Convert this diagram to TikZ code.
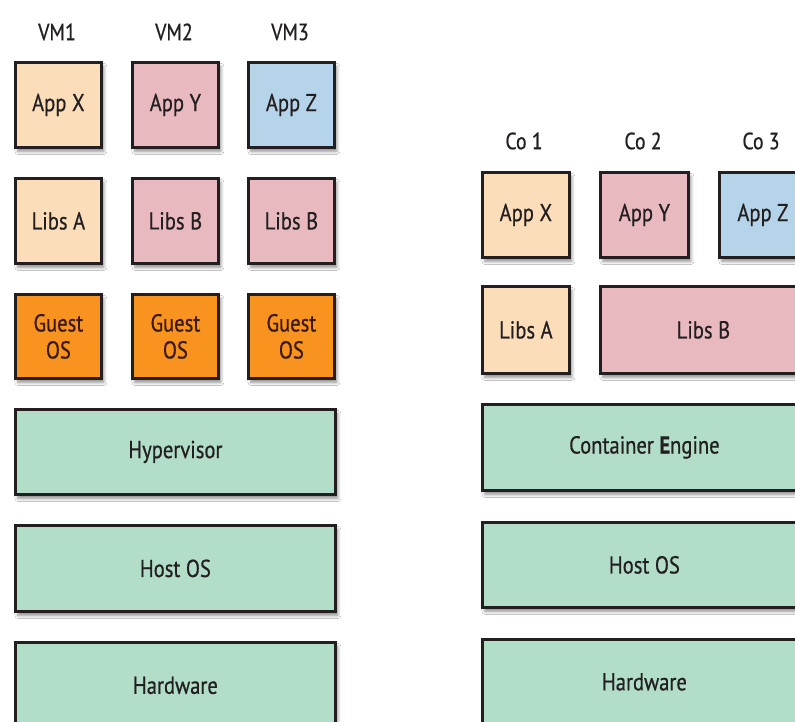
\documentclass[tikz,border=0pt]{standalone}
\usepackage{fontspec}
\setmainfont[FakeStretch=0.84,FakeBold=0.6]{PT Sans}
\usetikzlibrary{shadows.blur}
\definecolor{peach}{HTML}{FCDDB9}
\definecolor{pinkb}{HTML}{E8BAC0}
\definecolor{blueb}{HTML}{B6D4E9}
\definecolor{orangeb}{HTML}{F7931E}
\definecolor{greenb}{HTML}{B2DDC9}
\definecolor{ink}{HTML}{231F20}
\definecolor{brownink}{HTML}{3A1A0E}
\tikzset{
  box/.style={draw=ink, line width=2.8pt, anchor=north west, inner sep=0pt,
    font=\fontsize{24.5}{27}\selectfont, text=ink, align=center,
    blur shadow={shadow xshift=2.5pt, shadow yshift=-4pt, shadow blur radius=3pt, shadow blur steps=6, shadow opacity=45}},
  guest/.style={box, fill=orangeb, text=brownink, minimum width=86pt, minimum height=84pt},
  lbl/.style={font=\fontsize{23.5}{26}\selectfont, text=ink},
}
\begin{document}
\begin{tikzpicture}[x=1pt,y=-1pt]
\useasboundingbox (0,0) rectangle (795,722);
\clip (0,0) rectangle (795,722);
\fill[white] (0,0) rectangle (795,722);
% left: VMs
\node[lbl] (vm1) at (57,32) {VM1};
\node[lbl] (vm2) at (174,32) {VM2};
\node[lbl] (vm3) at (290,32) {VM3};
\node[box, fill=peach, minimum width=86pt, minimum height=85pt] (lax) at (14,61) {App X};
\node[box, fill=pinkb, minimum width=86pt, minimum height=85pt] (lay) at (131,61) {App Y};
\node[box, fill=blueb, minimum width=86pt, minimum height=85pt] (laz) at (247,61) {App Z};
\node[box, fill=peach, minimum width=86pt, minimum height=85pt] (lla) at (14,177) {Libs A};
\node[box, fill=pinkb, minimum width=86pt, minimum height=85pt] (llb1) at (131,177) {Libs B};
\node[box, fill=pinkb, minimum width=86pt, minimum height=85pt] (llb2) at (247,177) {Libs B};
\node[guest] (lg1) at (14,293) {Guest\\OS};
\node[guest] (lg2) at (131,293) {Guest\\OS};
\node[guest] (lg3) at (247,293) {Guest\\OS};
\node[box, fill=greenb, minimum width=320pt, minimum height=85pt] (hyp) at (14,408) {Hypervisor};
\node[box, fill=greenb, minimum width=320pt, minimum height=86pt] (lhost) at (14,524) {Host OS};
\node[box, fill=greenb, minimum width=320pt, minimum height=86pt] (lhw) at (14,641) {Hardware};
% right: containers
\node[lbl] (co1) at (524,141) {Co 1};
\node[lbl] (co2) at (643,141) {Co 2};
\node[lbl] (co3) at (761,141) {Co 3};
\node[box, fill=peach, minimum width=87pt, minimum height=85pt] (rax) at (481,171) {App X};
\node[box, fill=pinkb, minimum width=88pt, minimum height=85pt] (ray) at (599,171) {App Y};
\node[box, fill=blueb, minimum width=87pt, minimum height=85pt] (raz) at (718,171) {App Z};
\node[box, fill=peach, minimum width=87pt, minimum height=87pt] (rla) at (481,285) {Libs A};
\node[box, fill=pinkb, minimum width=206pt, minimum height=87pt] (rlb) at (599,285) {Libs B};
\node[box, fill=greenb, minimum width=324pt, minimum height=86pt] (ce) at (481,403) {Container \textbf{E}ngine};
\node[box, fill=greenb, minimum width=324pt, minimum height=85pt] (rhost) at (481,521) {Host OS};
\node[box, fill=greenb, minimum width=324pt, minimum height=85pt] (rhw) at (481,638) {Hardware};
\end{tikzpicture}
\end{document}
